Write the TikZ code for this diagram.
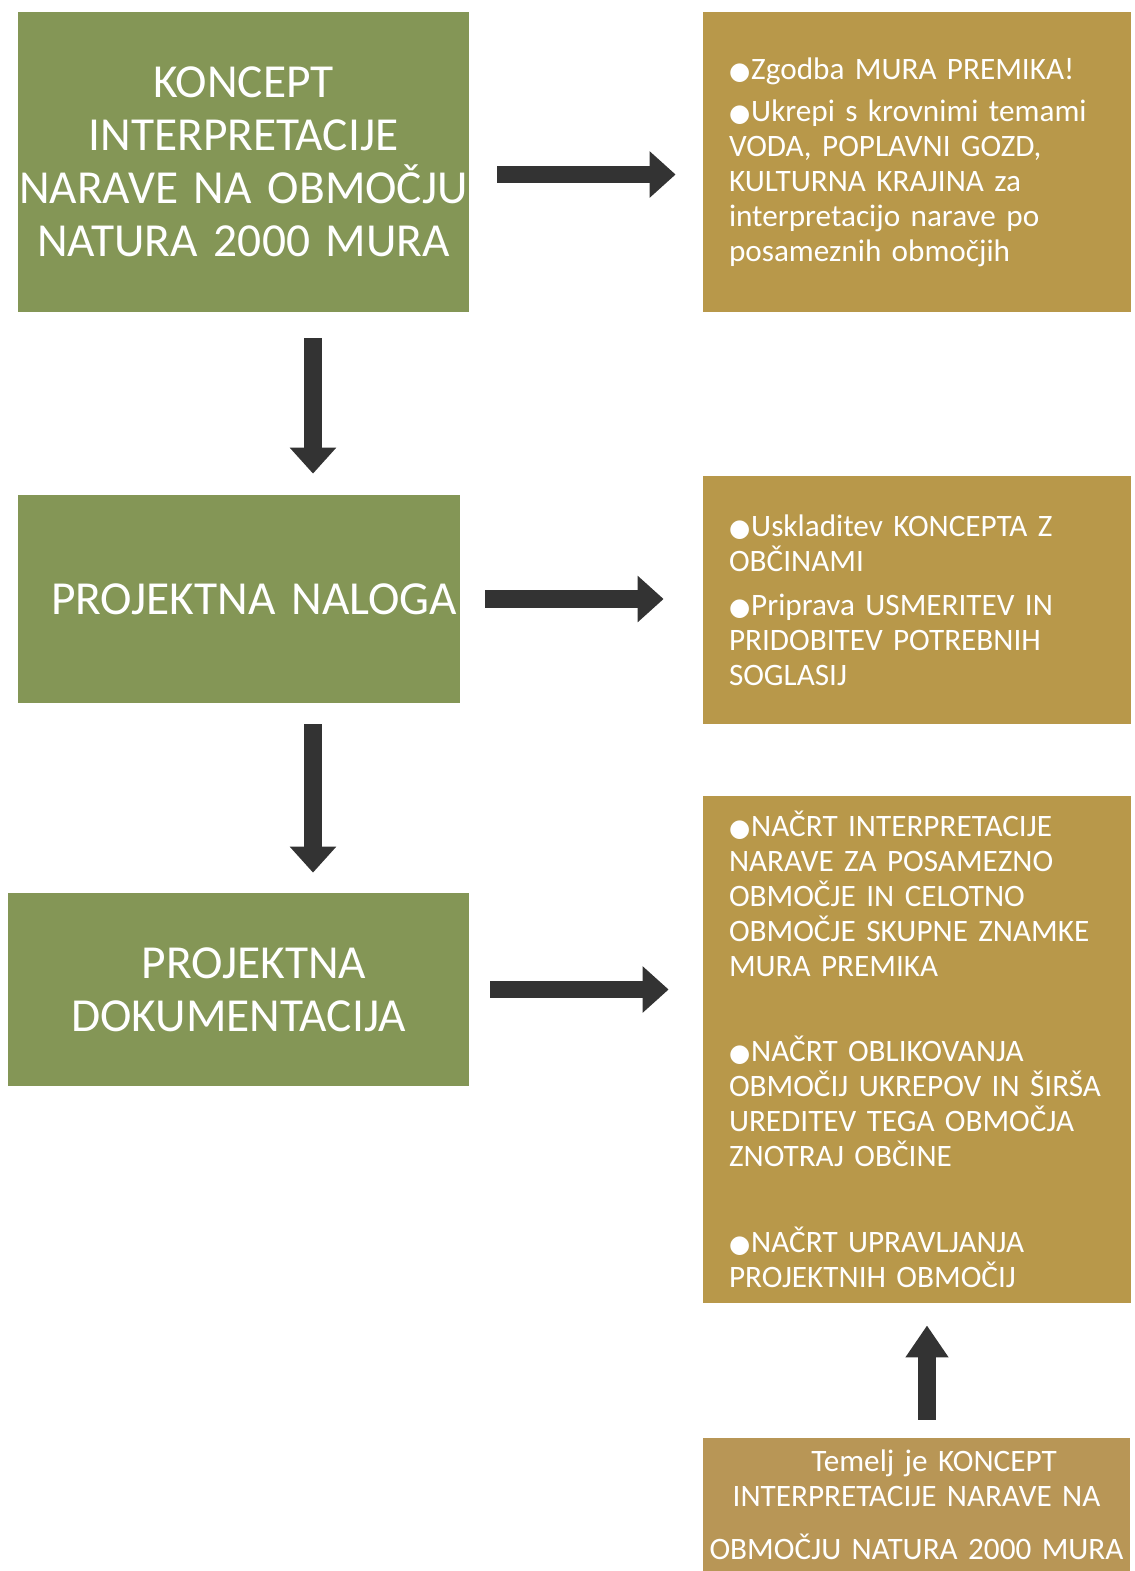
\documentclass[tikz,border=0pt]{standalone}
\usepackage{fontspec}
\setmainfont{Carlito}
\newfontfamily\bltfont[Scale=0.78]{DejaVu Sans}
\usetikzlibrary{arrows.meta}
\definecolor{natgreen}{RGB}{132,150,86}
\definecolor{natgold}{RGB}{184,152,74}
\definecolor{natgoldb}{RGB}{184,150,86}
\definecolor{arrowgray}{RGB}{51,51,51}
\newcommand{\blt}{{\bltfont ●}\kern0.5pt}

\begin{document}
\begin{tikzpicture}[x=0.5pt,y=-0.5pt,
    greenbox/.style={fill=natgreen,text=white,inner sep=0pt,align=center,font=\fontsize{23.7}{26.5}\selectfont},
    goldbox/.style={fill=natgold,text=white,inner xsep=13pt,inner ysep=0pt,text width=188pt,align=left,font=\fontsize{15.6}{17.5}\selectfont},
    bigarrow/.style={draw=arrowgray,line width=8.75pt,-{Triangle[length=13pt,width=22.5pt]},arrowgray}]
    \useasboundingbox (0,0) rectangle (1135,1571);
    % left column
    \node [greenbox,minimum width=225.5pt,minimum height=150pt,text width=225.5pt] (G1) at (243.5,162) {KONCEPT\\INTERPRETACIJE\\NARAVE NA OBMOČJU\\NATURA 2000 MURA};
    \node [greenbox,minimum width=221pt,minimum height=104pt,text width=221pt] (G2) at (239,599) {\hspace*{15pt}PROJEKTNA NALOGA};
    \node [greenbox,minimum width=230.5pt,minimum height=96.5pt,text width=230.5pt] (G3) at (238.5,989.5) {\hspace*{15.5pt}PROJEKTNA\\DOKUMENTACIJA};
    % right column
    \node [goldbox,minimum height=150pt] (B1) at (917,162) {\blt Zgodba MURA PREMIKA!\\[3.5pt]
        \blt Ukrepi s krovnimi temami\\VODA, POPLAVNI GOZD,\\KULTURNA KRAJINA za\\interpretacijo narave po\\posameznih območjih};
    \node [goldbox,minimum height=124pt] (B2) at (917,600) {\blt Uskladitev KONCEPTA Z\\OBČINAMI\\[4.5pt]
        \blt Priprava USMERITEV IN\\PRIDOBITEV POTREBNIH\\SOGLASIJ};
    \node [goldbox,minimum height=253.5pt] (B3) at (917,1049.5) {\blt NAČRT INTERPRETACIJE\\NARAVE ZA POSAMEZNO\\OBMOČJE IN CELOTNO\\OBMOČJE SKUPNE ZNAMKE\\MURA PREMIKA\\[25pt]
        \blt NAČRT OBLIKOVANJA\\OBMOČIJ UKREPOV IN ŠIRŠA\\UREDITEV TEGA OBMOČJA\\ZNOTRAJ OBČINE\\[25.5pt]
        \blt NAČRT UPRAVLJANJA\\PROJEKTNIH OBMOČIJ};
    \node [fill=natgoldb,text=white,inner sep=0pt,minimum width=213.5pt,minimum height=66.5pt,text width=213.5pt,align=center,font=\fontsize{15.6}{17.5}\selectfont] (B4) at (916.5,1504.5) {\hspace*{17.5pt}Temelj je KONCEPT\\INTERPRETACIJE NARAVE NA\\[9pt]OBMOČJU NATURA 2000 MURA};
    % arrows
    \draw [bigarrow,shorten <=14pt,shorten >=13.5pt] ([yshift=-6.25pt]G1.east) -- ([yshift=-6.25pt]G1.east -| B1.west);
    \draw [bigarrow,shorten <=12.5pt,shorten >=19.5pt] (G2.east) -- (G2.east -| B2.west);
    \draw [bigarrow,shorten <=10.5pt,shorten >=17pt] (G3.east) -- (G3.east -| B3.west);
    \draw [bigarrow,shorten <=13pt,shorten >=10.5pt] ([xshift=34.75pt]G1.south) -- ([xshift=34.75pt]G1.south |- G2.north);
    \draw [bigarrow,shorten <=10.5pt,shorten >=10pt] ([xshift=37pt]G2.south) -- ([xshift=37pt]G2.south |- G3.north);
    \draw [bigarrow,shorten <=9pt,shorten >=11pt,-{Triangle[length=16pt,width=20.5pt]}] ([xshift=5.25pt]B4.north) -- ([xshift=5.25pt]B4.north |- B3.south);
\end{tikzpicture}
\end{document}
